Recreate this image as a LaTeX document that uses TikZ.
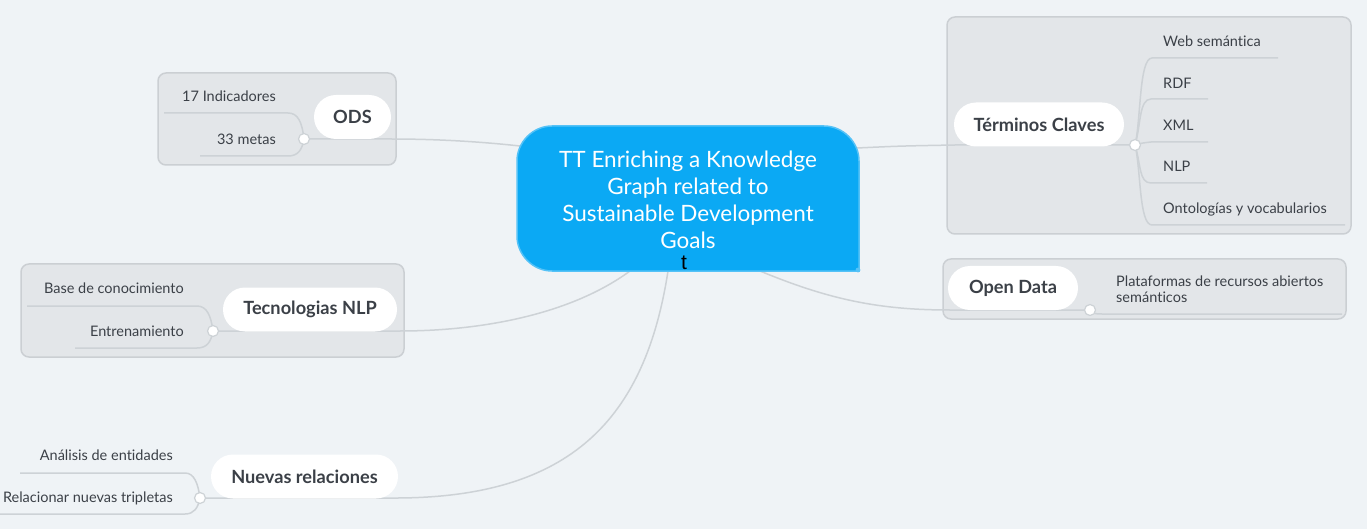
\documentclass[tikz,border=0pt]{standalone}
\usepackage{fontspec}
\setmainfont{Lato}[Ligatures={NoCommon}]
\newfontfamily\tfont{Liberation Sans}
\definecolor{bgc}{HTML}{EFF3F6}
\definecolor{bfill}{HTML}{E3E6E9}
\definecolor{bdraw}{HTML}{CBCFD3}
\definecolor{linec}{HTML}{CDD2D6}
\definecolor{cfill}{HTML}{0BA9F4}
\definecolor{cdraw}{HTML}{55C2F7}
\definecolor{txt}{HTML}{3B4047}
\pgfdeclarelayer{bglayer}
\pgfdeclarelayer{boundlayer}
\pgfdeclarelayer{linklayer}
\pgfsetlayers{bglayer,boundlayer,linklayer,main}
\begin{document}
\begin{tikzpicture}[x=1pt,y=-1pt,
  topic/.style={fill=white, rounded corners=22pt, minimum height=44pt, inner sep=0pt, font=\fontsize{18.2}{21}\selectfont\bfseries, text=txt},
  sub/.style={font=\fontsize{14.5}{17}\selectfont, text=txt, inner sep=0pt},
  junc/.style={circle, fill=white, draw=linec, line width=1.2pt, minimum size=11pt, inner sep=0pt},
  link/.style={draw=linec, line width=1.5pt},
  boundbox/.style={fill=bfill, draw=bdraw, line width=1.5pt, rounded corners=8pt, inner sep=0pt}]
\useasboundingbox (0,0) rectangle (1367,529);
\begin{pgfonlayer}{bglayer}
\fill[bgc] (0,0) rectangle (1367,529);
\end{pgfonlayer}

% boundaries
\begin{pgfonlayer}{boundlayer}
\node[boundbox, minimum width=238pt, minimum height=92pt] (b-ods) at (277,119) {};
\node[boundbox, minimum width=404pt, minimum height=217pt] (b-term) at (1149,125.5) {};
\node[boundbox, minimum width=403pt, minimum height=60pt] (b-open) at (1144.5,289) {};
\node[boundbox, minimum width=383pt, minimum height=93pt] (b-nlp) at (212.5,310.5) {};
\end{pgfonlayer}

% central topic
\node[inner sep=0pt, minimum width=342pt, minimum height=145pt] (c) at (688,198.5) {};
\path[fill=cfill, draw=cdraw, line width=1.5pt] (859,271) -- (552,271) .. controls (533,271) and (517,255) .. (517,236) -- (517,161) .. controls (517,142) and (533,126) .. (552,126) -- (824,126) .. controls (843,126) and (859,142) .. (859,161) -- cycle;
\fill[cdraw] (858,270) circle (2.4pt);
\node[font=\fontsize{22.5}{27}\selectfont, text=white, align=center, inner sep=0pt] (ct) at (688,200) {TT Enriching a Knowledge\\Graph related to\\Sustainable Development\\Goals};
\node[font=\tfont\fontsize{21}{24}\selectfont, text=black, inner sep=0pt] (tt) at (684,263) {t};

% main topics
\node[topic, minimum width=77pt] (ods) at (352.5,117) {ODS};
\node[topic, minimum width=170pt] (term) at (1039,124.5) {Términos Claves};
\node[topic, minimum width=130pt] (open) at (1013,288) {Open Data};
\node[topic, minimum width=174pt] (nlp) at (310,309.5) {Tecnologias NLP};
\node[topic, minimum width=187pt] (nuev) at (304.5,476.5) {Nuevas relaciones};

% junctions
\node[junc] (odsJ) at (304,139) {};
\node[junc] (termJ) at (1135,145) {};
\node[junc] (openJ) at (1090,310) {};
\node[junc] (nlpJ) at (213,331) {};
\node[junc] (nuevJ) at (200,498) {};

% subtopics
\node[sub, anchor=east] (s-ind) at (276,96) {17 Indicadores};
\node[sub, anchor=east] (s-met) at (276,139) {33 metas};
\node[sub, anchor=east] (s-base) at (184,288) {Base de conocimiento};
\node[sub, anchor=east] (s-ent) at (184,331) {Entrenamiento};
\node[sub, anchor=east] (s-ana) at (173,455) {Análisis de entidades};
\node[sub, anchor=east] (s-rel) at (173,498) {Relacionar nuevas tripletas};
\node[sub, anchor=west] (s-web) at (1163,41) {Web semántica};
\node[sub, anchor=west] (s-rdf) at (1163,83) {RDF};
\node[sub, anchor=west] (s-xml) at (1163,125) {XML};
\node[sub, anchor=west] (s-nlp) at (1163,166) {NLP};
\node[sub, anchor=west] (s-ont) at (1163,209) {Ontologías y vocabularios};
\node[sub, anchor=west, align=left, font=\fontsize{14.5}{16.5}\selectfont] (s-plat) at (1116,289) {Plataformas de recursos abiertos\\semánticos};

% connector end points
\coordinate (c-ods) at (520,146);
\coordinate (c-term) at (857,148);
\coordinate (c-open) at (760,271);
\coordinate (c-nlp) at (630,271);
\coordinate (c-nuev) at (668,271);
\coordinate (u-ind) at (164,113);
\coordinate (u-met) at (200,156);
\coordinate (u-base) at (27,306);
\coordinate (u-ent) at (75,348);
\coordinate (u-ana) at (20,473);
\coordinate (u-rel) at (0,514);
\coordinate (u-web) at (1278,58);
\coordinate (u-rdf) at (1208,99);
\coordinate (u-xml) at (1208,142);
\coordinate (u-nlp) at (1207,183);
\coordinate (u-ont) at (1345,225);
\coordinate (u-plat) at (1342,314);

\begin{pgfonlayer}{linklayer}
\draw[link] (c-ods) .. controls (465,140) and (420,139) .. (390,139) -- (odsJ.center);
\draw[link] (c-term) .. controls (900,146) .. (955,145) -- (termJ.center);
\draw[link] (c-open) .. controls (830,300) and (880,310) .. (950,310) -- (openJ.center);
\draw[link] (c-nlp) .. controls (570,315) and (480,331) .. (400,331) -- (nlpJ.center);
\draw[link] (c-nuev) .. controls (645,420) and (570,497) .. (398,498) -- (nuevJ.center);
% ODS children
\draw[link] (odsJ.center) .. controls (302,122) and (298,113) .. (288,113) -- (u-ind);
\draw[link] (odsJ.center) .. controls (302,150) and (298,156) .. (288,156) -- (u-met);
% NLP children
\draw[link] (nlpJ.center) .. controls (211,316) and (207,306) .. (197,306) -- (u-base);
\draw[link] (nlpJ.center) .. controls (211,342) and (207,348) .. (197,348) -- (u-ent);
% Nuevas children
\draw[link] (nuevJ.center) .. controls (198,483) and (194,473) .. (185,473) -- (u-ana);
\draw[link] (nuevJ.center) .. controls (198,508) and (194,514) .. (185,514) -- (u-rel);
% Terminos children
\draw[link] (termJ.center) .. controls (1141,120) and (1139,58) .. (1152,58) -- (u-web);
\draw[link] (termJ.center) .. controls (1141,125) and (1139,99) .. (1151,99) -- (u-rdf);
\draw[link] (termJ.center) .. controls (1142,143) .. (1151,142) -- (u-xml);
\draw[link] (termJ.center) .. controls (1141,165) and (1139,183) .. (1151,183) -- (u-nlp);
\draw[link] (termJ.center) .. controls (1141,170) and (1139,225) .. (1152,225) -- (u-ont);
% Open data child
\draw[link] (openJ.center) .. controls (1095,314) .. (1102,314) -- (u-plat);
\end{pgfonlayer}
\end{tikzpicture}
\end{document}
